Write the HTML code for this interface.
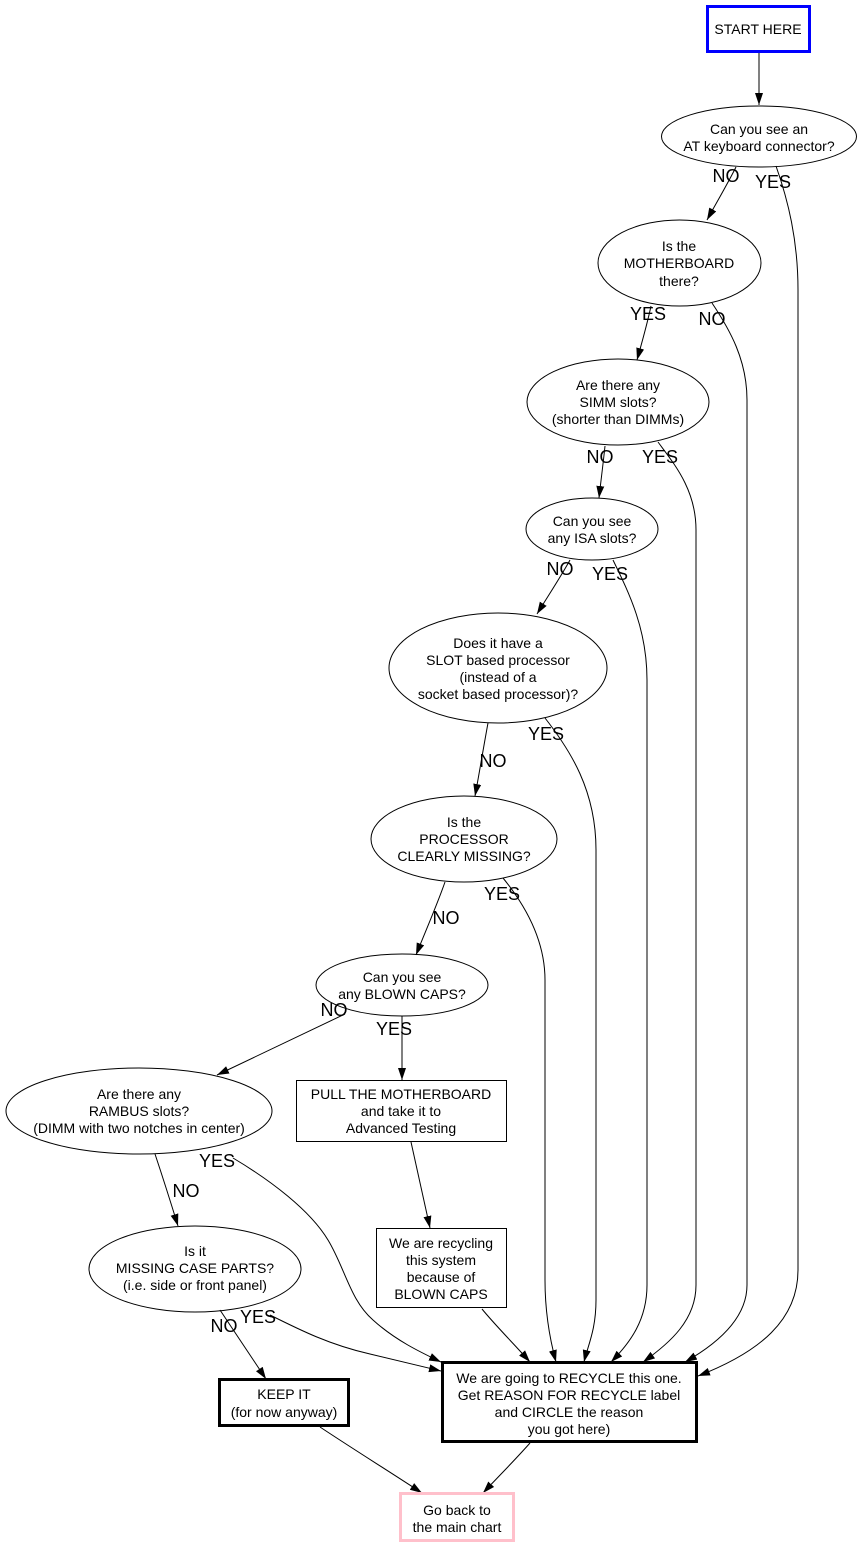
<!DOCTYPE html>
<html>
<head>
<meta charset="utf-8">
<style>
html,body{margin:0;padding:0;background:#fff;}
svg{display:block;}
text{font-family:"Liberation Sans",Arial,sans-serif;fill:#000;}
.n{font-size:14px;text-anchor:middle;}
.l{font-size:18px;text-anchor:middle;}
.e{fill:none;stroke:#000;stroke-width:1;}
</style>
</head>
<body>
<svg width="863" height="1547" viewBox="0 0 863 1547" xmlns="http://www.w3.org/2000/svg">
<defs>
<marker id="a" markerUnits="userSpaceOnUse" markerWidth="13" markerHeight="9" refX="12" refY="4" orient="auto">
<path d="M0,0 L12,4 L0,8 z" fill="#000"/>
</marker>
</defs>
<rect width="863" height="1547" fill="#fff"/>

<!-- edges -->
<g class="e" marker-end="url(#a)">
<path d="M759,53 L759,105"/>
<path d="M736,167 C728,183 718,200 707,220"/>
<path d="M776,166 C788,200 798,240 798,290 L798,1270 C798,1320 760,1352 698,1376"/>
<path d="M651,306 C647,325 642,342 637,360"/>
<path d="M712,303 C730,330 747,360 747,400 L747,1285 C747,1320 715,1345 685,1362"/>
<path d="M605,446 C603,465 601,480 599,498"/>
<path d="M658,442 C675,465 696,490 696,530 L696,1285 C696,1320 670,1343 643,1362"/>
<path d="M570,560 C560,578 548,596 537,614"/>
<path d="M613,560 C630,595 647,630 647,680 L647,1285 C647,1320 630,1343 611,1362"/>
<path d="M488,723 C483,750 479,775 475,796"/>
<path d="M545,718 C570,750 596,790 596,850 L596,1300 C596,1330 588,1345 584,1362"/>
<path d="M445,882 C437,905 426,930 416,955"/>
<path d="M503,878 C525,905 545,940 545,980 L545,1280 C545,1312 550,1340 556,1362"/>
<path d="M345,1014 L217,1075"/>
<path d="M402,1016 L402,1080"/>
<path d="M155,1154 C162,1175 170,1200 178,1226"/>
<path d="M233,1158 C270,1180 310,1210 328,1240 C345,1268 350,1300 373,1320 C395,1340 420,1352 441,1362"/>
<path d="M220,1310 L266,1379"/>
<path d="M270,1315 C300,1330 330,1345 370,1354 C400,1361 420,1366 441,1371"/>
<path d="M411,1142 L430,1228"/>
<path d="M482,1309 C495,1325 515,1345 530,1362"/>
<path d="M320,1427 C350,1447 390,1472 422,1493"/>
<path d="M530,1443 C515,1460 498,1477 483,1493"/>
</g>

<!-- nodes -->
<rect x="707.5" y="6.5" width="102" height="45" fill="#fff" stroke="#0000ff" stroke-width="3"/>
<text class="n" x="758" y="34">START HERE</text>

<ellipse class="e" cx="759" cy="136.5" rx="97.5" ry="30.5" fill="#fff"/>
<text class="n" x="759" y="134">Can you see an</text>
<text class="n" x="759" y="151">AT keyboard connector?</text>

<ellipse class="e" cx="679.5" cy="263" rx="81.5" ry="43"/>
<text class="n" x="679" y="251">Is the</text>
<text class="n" x="679" y="268">MOTHERBOARD</text>
<text class="n" x="679" y="286">there?</text>

<ellipse class="e" cx="618" cy="402" rx="91" ry="43"/>
<text class="n" x="618" y="390">Are there any</text>
<text class="n" x="618" y="407">SIMM slots?</text>
<text class="n" x="618" y="424">(shorter than DIMMs)</text>

<ellipse class="e" cx="592" cy="529" rx="66" ry="31"/>
<text class="n" x="592" y="526">Can you see</text>
<text class="n" x="592" y="543">any ISA slots?</text>

<ellipse class="e" cx="498" cy="668" rx="109" ry="55"/>
<text class="n" x="498" y="648">Does it have a</text>
<text class="n" x="498" y="665">SLOT based processor</text>
<text class="n" x="498" y="682">(instead of a</text>
<text class="n" x="498" y="699">socket based processor)?</text>

<ellipse class="e" cx="464" cy="839" rx="93" ry="43"/>
<text class="n" x="464" y="827">Is the</text>
<text class="n" x="464" y="844">PROCESSOR</text>
<text class="n" x="464" y="861">CLEARLY MISSING?</text>

<ellipse class="e" cx="402" cy="985" rx="86" ry="31"/>
<text class="n" x="402" y="982">Can you see</text>
<text class="n" x="402" y="999">any BLOWN CAPS?</text>

<ellipse class="e" cx="139" cy="1111" rx="133" ry="43"/>
<text class="n" x="139" y="1099">Are there any</text>
<text class="n" x="139" y="1116">RAMBUS slots?</text>
<text class="n" x="139" y="1133">(DIMM with two notches in center)</text>

<rect x="296.5" y="1080.5" width="210" height="61" fill="none" stroke="#000" stroke-width="1"/>
<text class="n" x="401" y="1099">PULL THE MOTHERBOARD</text>
<text class="n" x="401" y="1116">and take it to</text>
<text class="n" x="401" y="1133">Advanced Testing</text>

<ellipse class="e" cx="195" cy="1269" rx="106" ry="43"/>
<text class="n" x="195" y="1256">Is it</text>
<text class="n" x="195" y="1273">MISSING CASE PARTS?</text>
<text class="n" x="195" y="1290">(i.e. side or front panel)</text>

<rect x="376.5" y="1228.5" width="130" height="79" fill="none" stroke="#000" stroke-width="1"/>
<text class="n" x="441" y="1248">We are recycling</text>
<text class="n" x="441" y="1265">this system</text>
<text class="n" x="441" y="1282">because of</text>
<text class="n" x="441" y="1299">BLOWN CAPS</text>

<rect x="219.5" y="1379.5" width="129" height="46" fill="none" stroke="#000" stroke-width="3"/>
<text class="n" x="284" y="1399">KEEP IT</text>
<text class="n" x="284" y="1417">(for now anyway)</text>

<rect x="442.5" y="1362.5" width="254" height="79" fill="none" stroke="#000" stroke-width="3"/>
<text class="n" x="569" y="1383">We are going to RECYCLE this one.</text>
<text class="n" x="569" y="1400">Get REASON FOR RECYCLE label</text>
<text class="n" x="569" y="1417">and CIRCLE the reason</text>
<text class="n" x="569" y="1434">you got here)</text>

<rect x="400.5" y="1493.5" width="113" height="47" fill="none" stroke="#ffc0cb" stroke-width="3"/>
<text class="n" x="457" y="1515">Go back to</text>
<text class="n" x="457" y="1532">the main chart</text>

<!-- edge labels -->
<text class="l" x="726" y="182">NO</text>
<text class="l" x="773" y="188">YES</text>
<text class="l" x="648" y="320">YES</text>
<text class="l" x="712" y="325">NO</text>
<text class="l" x="600" y="463">NO</text>
<text class="l" x="660" y="463">YES</text>
<text class="l" x="560" y="575">NO</text>
<text class="l" x="610" y="580">YES</text>
<text class="l" x="546" y="740">YES</text>
<text class="l" x="493" y="767">NO</text>
<text class="l" x="502" y="900">YES</text>
<text class="l" x="446" y="924">NO</text>
<text class="l" x="334" y="1016">NO</text>
<text class="l" x="394" y="1035">YES</text>
<text class="l" x="217" y="1167">YES</text>
<text class="l" x="186" y="1197">NO</text>
<text class="l" x="224" y="1332">NO</text>
<text class="l" x="258" y="1323">YES</text>
</svg>
</body>
</html>
